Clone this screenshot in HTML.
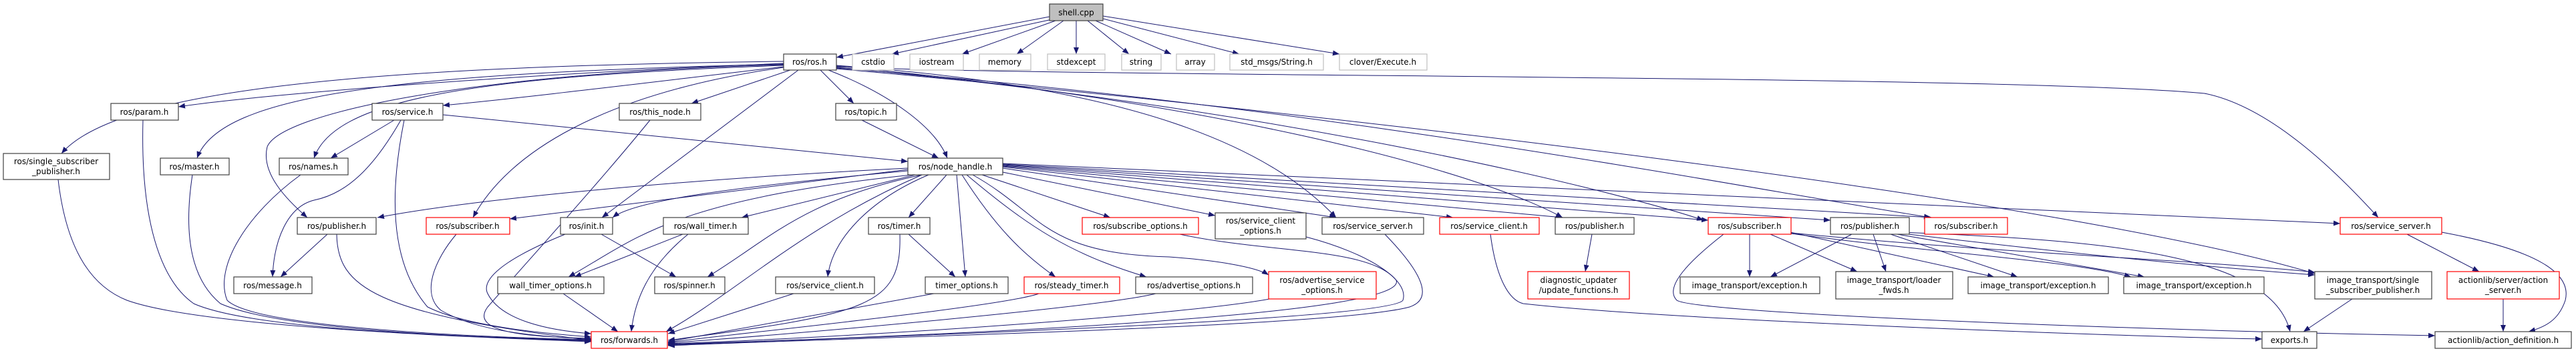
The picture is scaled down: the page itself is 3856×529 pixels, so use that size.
<!DOCTYPE html>
<html><head><meta charset="utf-8"><style>
html,body{margin:0;padding:0;background:#fff;}
svg{display:block;}
text{font-family:"DejaVu Sans","Liberation Sans",sans-serif;font-size:12px;fill:#000;}
.n{fill:#fff;stroke:#404040;stroke-width:1.2;}
.r{fill:#fff;stroke:#ff0000;stroke-width:1.2;}
.g{fill:#fff;stroke:#bfbfbf;stroke-width:1.2;}
.e{fill:none;stroke:#191970;stroke-width:1;}
</style></head><body>
<svg width="3856" height="529" viewBox="0 0 3856 529" xmlns="http://www.w3.org/2000/svg">
<defs><marker id="a" markerUnits="userSpaceOnUse" markerWidth="10" markerHeight="8" refX="10" refY="4" orient="auto"><path d="M0,0 L10,4 L0,8 z" fill="#191970"/></marker></defs>
<g class="e" marker-end="url(#a)">
<path d="M1571,25 L1252,86"/>
<path d="M1575,29 L1335,81"/>
<path d="M1580,31 L1440,81"/>
<path d="M1592,31 L1522,81"/>
<path d="M1611,31 L1611,81"/>
<path d="M1628,31 L1690,81"/>
<path d="M1640,31 L1753,81"/>
<path d="M1651,28 L1855,81"/>
<path d="M1651,24 L2005,81"/>
<path d="M1173,95 C800,110 400,140 267,160"/>
<path d="M1173,92 C500,100 170,140 92,230"/>
<path d="M1173,96 C600,110 330,140 295,237"/>
<path d="M1173,98 C700,115 500,150 470,237"/>
<path d="M1173,100 C1000,120 800,145 663,158"/>
<path d="M1173,97 C700,110 420,170 400,220 C390,260 430,300 460,326"/>
<path d="M1173,101 C900,140 760,230 708,326"/>
<path d="M1183,105 L1035,155"/>
<path d="M1195,105 L901,326"/>
<path d="M1228,105 L1278,155"/>
<path d="M1240,105 C1330,140 1400,190 1418,237"/>
<path d="M1252,100 C1600,116 3000,112 3300,140 C3400,160 3500,260 3560,326"/>
<path d="M1252,98 C1700,130 1900,220 2000,326"/>
<path d="M1252,99 C1800,150 2200,250 2339,326"/>
<path d="M1252,101 C1900,160 2400,280 2550,330"/>
<path d="M1252,102 C2000,160 2600,280 2890,326"/>
<path d="M1252,103 C2000,170 3100,300 3465,410"/>
<path d="M663,172 L1359,242"/>
<path d="M590,180 L495,237"/>
<path d="M600,180 C560,250 520,290 470,300 C430,310 410,360 408,415"/>
<path d="M1290,180 L1405,237"/>
<path d="M1359,252 C1000,270 700,300 565,326"/>
<path d="M1359,254 L763,328"/>
<path d="M1359,256 C1100,280 950,300 917,326"/>
<path d="M1370,262 L1110,326"/>
<path d="M1365,262 C1000,300 950,360 851,415"/>
<path d="M1380,262 C1200,300 1150,360 1059,415"/>
<path d="M1390,262 C1300,300 1245,360 1239,415"/>
<path d="M1380,262 C1200,340 1100,440 997,497"/>
<path d="M1417,262 L1360,326"/>
<path d="M1432,262 L1445,415"/>
<path d="M1440,262 C1490,340 1530,380 1580,415"/>
<path d="M1447,262 C1540,340 1600,380 1716,415"/>
<path d="M1456,262 C1560,320 1560,380 1750,385 C1820,390 1880,400 1899,412"/>
<path d="M1470,262 L1662,326"/>
<path d="M1501,258 L1819,323"/>
<path d="M1501,252 L2000,326"/>
<path d="M1501,250 L2175,326"/>
<path d="M1501,249 L2339,326"/>
<path d="M1501,248 L2557,330"/>
<path d="M1501,247 L2740,330"/>
<path d="M1501,246 L2892,326"/>
<path d="M1501,245 C2500,290 3200,320 3503,335"/>
<path d="M605,180 C585,280 580,390 640,460 C700,490 820,500 885,505"/>
<path d="M973,180 C900,270 800,380 730,460 C700,500 800,505 885,507"/>
<path d="M214,180 C210,330 240,420 290,455 C380,495 700,505 885,510"/>
<path d="M87,269 C100,380 140,430 190,450 C300,490 700,505 885,512"/>
<path d="M288,262 C270,380 300,430 330,455 C420,495 700,505 885,511"/>
<path d="M450,262 C370,320 320,400 340,450 C380,490 700,505 885,509"/>
<path d="M490,351 L420,415"/>
<path d="M504,351 C505,430 560,470 885,510"/>
<path d="M683,351 C650,390 630,440 660,465 C720,500 820,505 885,508"/>
<path d="M846,351 C750,390 720,420 730,440 C750,480 820,495 885,500"/>
<path d="M900,351 L1012,415"/>
<path d="M1022,351 L860,415"/>
<path d="M1030,351 C970,400 950,450 945,497"/>
<path d="M843,440 L925,497"/>
<path d="M1188,440 L1000,500"/>
<path d="M1347,351 C1350,460 1300,470 1000,510"/>
<path d="M1360,351 L1430,415"/>
<path d="M1398,440 L1000,512"/>
<path d="M1555,440 C1500,460 1100,500 1000,513"/>
<path d="M1730,440 C1650,460 1200,500 1000,514"/>
<path d="M1910,446 C1800,470 1300,505 1000,515"/>
<path d="M1766,351 C1900,380 2050,370 2090,420 C2110,470 1500,500 1000,516"/>
<path d="M1955,355 C2050,380 2110,420 2100,450 C2080,480 1300,505 1000,517"/>
<path d="M2073,351 C2140,420 2140,450 2110,460 C2000,490 1300,505 1000,518"/>
<path d="M2231,351 C2240,420 2260,450 2280,455 C2500,480 3200,505 3386,508"/>
<path d="M2383,351 L2373,407"/>
<path d="M2619,351 L2619,415"/>
<path d="M2650,351 L2780,407"/>
<path d="M2680,348 L2985,415"/>
<path d="M2681,350 C2900,380 3100,390 3190,415"/>
<path d="M2580,351 C2530,390 2490,430 2510,450 C2540,470 3200,495 3645,503"/>
<path d="M2681,349 C3000,380 3300,390 3465,408"/>
<path d="M2772,351 L2650,415"/>
<path d="M2804,351 L2823,407"/>
<path d="M2830,351 L3020,415"/>
<path d="M2840,351 L3210,415"/>
<path d="M2840,349 C3100,380 3300,400 3465,412"/>
<path d="M2845,348 C3150,360 3400,380 3428,497"/>
<path d="M3521,448 L3448,497"/>
<path d="M3603,351 L3711,407"/>
<path d="M3655,348 C3800,375 3850,410 3840,450 C3830,480 3810,490 3785,497"/>
<path d="M3747,448 L3747,497"/>
</g>
<g>
<rect x="1571" y="6" width="80" height="25" fill="#bfbfbf" stroke="#404040" stroke-width="1.2"/><text x="1611" y="23" text-anchor="middle">shell.cpp</text>
<rect class="g" x="1276" y="81" width="62" height="24"/><text x="1307" y="97" text-anchor="middle">cstdio</text>
<rect class="g" x="1362" y="81" width="80" height="24"/><text x="1402" y="97" text-anchor="middle">iostream</text>
<rect class="g" x="1466" y="81" width="77" height="24"/><text x="1504" y="97" text-anchor="middle">memory</text>
<rect class="g" x="1568" y="81" width="86" height="24"/><text x="1611" y="97" text-anchor="middle">stdexcept</text>
<rect class="g" x="1679" y="81" width="59" height="24"/><text x="1708" y="97" text-anchor="middle">string</text>
<rect class="g" x="1761" y="81" width="57" height="24"/><text x="1789" y="97" text-anchor="middle">array</text>
<rect class="g" x="1841" y="81" width="140" height="24"/><text x="1911" y="97" text-anchor="middle">std_msgs/String.h</text>
<rect class="g" x="2005" y="81" width="131" height="24"/><text x="2070" y="97" text-anchor="middle">clover/Execute.h</text>
<rect class="n" x="1173" y="81" width="79" height="24"/><text x="1212" y="97" text-anchor="middle">ros/ros.h</text>
<rect class="n" x="166" y="155" width="101" height="25"/><text x="216" y="172" text-anchor="middle">ros/param.h</text>
<rect class="n" x="557" y="155" width="106" height="25"/><text x="610" y="172" text-anchor="middle">ros/service.h</text>
<rect class="n" x="927" y="155" width="122" height="25"/><text x="988" y="172" text-anchor="middle">ros/this_node.h</text>
<rect class="n" x="1251" y="155" width="91" height="25"/><text x="1296" y="172" text-anchor="middle">ros/topic.h</text>
<rect class="n" x="5" y="230" width="159" height="39"/><text x="84" y="246" text-anchor="middle">ros/single_subscriber</text><text x="84" y="261" text-anchor="middle">_publisher.h</text>
<rect class="n" x="240" y="237" width="103" height="25"/><text x="291" y="254" text-anchor="middle">ros/master.h</text>
<rect class="n" x="418" y="237" width="103" height="25"/><text x="469" y="254" text-anchor="middle">ros/names.h</text>
<rect class="n" x="1359" y="237" width="142" height="25"/><text x="1430" y="254" text-anchor="middle">ros/node_handle.h</text>
<rect class="n" x="445" y="326" width="118" height="25"/><text x="504" y="343" text-anchor="middle">ros/publisher.h</text>
<rect class="r" x="638" y="326" width="125" height="25"/><text x="700" y="343" text-anchor="middle">ros/subscriber.h</text>
<rect class="n" x="839" y="326" width="78" height="25"/><text x="878" y="343" text-anchor="middle">ros/init.h</text>
<rect class="n" x="993" y="326" width="127" height="25"/><text x="1056" y="343" text-anchor="middle">ros/wall_timer.h</text>
<rect class="n" x="1300" y="326" width="92" height="25"/><text x="1346" y="343" text-anchor="middle">ros/timer.h</text>
<rect class="r" x="1620" y="326" width="174" height="25"/><text x="1707" y="343" text-anchor="middle">ros/subscribe_options.h</text>
<rect class="n" x="1819" y="319" width="136" height="39"/><text x="1887" y="335" text-anchor="middle">ros/service_client</text><text x="1887" y="350" text-anchor="middle">_options.h</text>
<rect class="n" x="1979" y="326" width="152" height="25"/><text x="2055" y="343" text-anchor="middle">ros/service_server.h</text>
<rect class="r" x="2155" y="326" width="149" height="25"/><text x="2229" y="343" text-anchor="middle">ros/service_client.h</text>
<rect class="n" x="2328" y="326" width="118" height="25"/><text x="2387" y="343" text-anchor="middle">ros/publisher.h</text>
<rect class="r" x="2557" y="326" width="124" height="25"/><text x="2619" y="343" text-anchor="middle">ros/subscriber.h</text>
<rect class="n" x="2740" y="326" width="118" height="25"/><text x="2799" y="343" text-anchor="middle">ros/publisher.h</text>
<rect class="r" x="2881" y="326" width="124" height="25"/><text x="2943" y="343" text-anchor="middle">ros/subscriber.h</text>
<rect class="r" x="3503" y="326" width="152" height="25"/><text x="3579" y="343" text-anchor="middle">ros/service_server.h</text>
<rect class="n" x="350" y="415" width="117" height="25"/><text x="408" y="432" text-anchor="middle">ros/message.h</text>
<rect class="n" x="745" y="415" width="159" height="25"/><text x="824" y="432" text-anchor="middle">wall_timer_options.h</text>
<rect class="n" x="980" y="415" width="105" height="25"/><text x="1032" y="432" text-anchor="middle">ros/spinner.h</text>
<rect class="n" x="1161" y="415" width="148" height="25"/><text x="1235" y="432" text-anchor="middle">ros/service_client.h</text>
<rect class="n" x="1385" y="415" width="124" height="25"/><text x="1447" y="432" text-anchor="middle">timer_options.h</text>
<rect class="r" x="1533" y="415" width="143" height="25"/><text x="1604" y="432" text-anchor="middle">ros/steady_timer.h</text>
<rect class="n" x="1700" y="415" width="175" height="25"/><text x="1787" y="432" text-anchor="middle">ros/advertise_options.h</text>
<rect class="r" x="1899" y="407" width="161" height="41"/><text x="1979" y="424" text-anchor="middle">ros/advertise_service</text><text x="1979" y="439" text-anchor="middle">_options.h</text>
<rect class="r" x="2287" y="407" width="152" height="41"/><text x="2363" y="424" text-anchor="middle">diagnostic_updater</text><text x="2363" y="439" text-anchor="middle">/update_functions.h</text>
<rect class="n" x="2515" y="415" width="209" height="25"/><text x="2619" y="432" text-anchor="middle">image_transport/exception.h</text>
<rect class="n" x="2748" y="407" width="175" height="41"/><text x="2835" y="424" text-anchor="middle">image_transport/loader</text><text x="2835" y="439" text-anchor="middle">_fwds.h</text>
<rect class="n" x="2946" y="415" width="210" height="25"/><text x="3051" y="432" text-anchor="middle">image_transport/exception.h</text>
<rect class="n" x="3179" y="415" width="210" height="25"/><text x="3284" y="432" text-anchor="middle">image_transport/exception.h</text>
<rect class="n" x="3465" y="407" width="175" height="41"/><text x="3552" y="424" text-anchor="middle">image_transport/single</text><text x="3552" y="439" text-anchor="middle">_subscriber_publisher.h</text>
<rect class="r" x="3663" y="407" width="168" height="41"/><text x="3747" y="424" text-anchor="middle">actionlib/server/action</text><text x="3747" y="439" text-anchor="middle">_server.h</text>
<rect class="r" x="885" y="497" width="114" height="25"/><text x="942" y="514" text-anchor="middle">ros/forwards.h</text>
<rect class="n" x="3386" y="497" width="82" height="25"/><text x="3427" y="514" text-anchor="middle">exports.h</text>
<rect class="n" x="3645" y="497" width="204" height="25"/><text x="3747" y="514" text-anchor="middle">actionlib/action_definition.h</text>
</g>
</svg>
</body></html>
